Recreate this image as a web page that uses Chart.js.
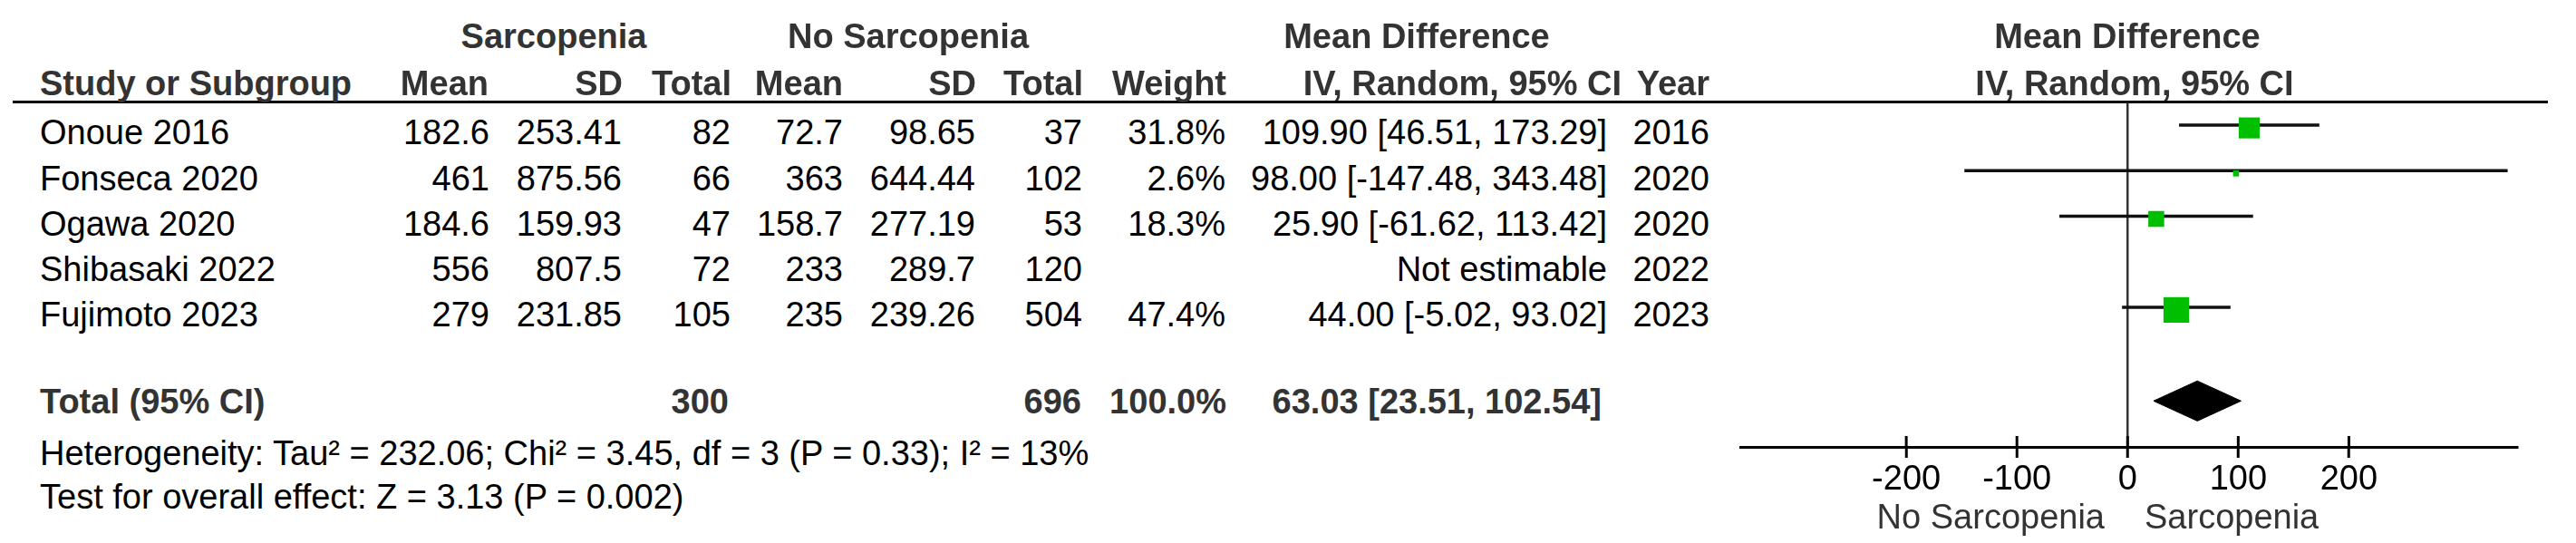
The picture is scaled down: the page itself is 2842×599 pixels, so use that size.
<!DOCTYPE html>
<html>
<head>
<meta charset="utf-8">
<script src="https://cdn.jsdelivr.net/npm/chart.js@4.4.1/dist/chart.umd.min.js"></script>
<style>
  html, body { margin: 0; padding: 0; background: #fff; }
  body { width: 2842px; height: 599px; position: relative; overflow: hidden;
         font-family: "Liberation Sans", Arial, sans-serif; }
  .t { position: absolute; font-size: 38px; line-height: 38px; white-space: nowrap; color: #000; }
  .b { font-weight: bold; color: #333; }
  .lbl { color: #333; }
  #forest { position: absolute; left: 1900px; top: 0; }
  #hline { position: absolute; left: 14px; width: 2797px; top: 111px; height: 3px; background: #000; }
</style>
</head>
<body>
<div id="hline"></div>
<canvas id="forest" width="942" height="599"></canvas>
<script>
// study data
const studies = ['Onoue 2016', 'Fonseca 2020', 'Ogawa 2020', 'Shibasaki 2022', 'Fujimoto 2023'];
const sarcMean = [182.6, 461, 184.6, 556, 279];
const sarcSD = [253.41, 875.56, 159.93, 807.5, 231.85];
const sarcN = [82, 66, 47, 72, 105];
const noMean = [72.7, 363, 158.7, 233, 235];
const noSD = [98.65, 644.44, 277.19, 289.7, 239.26];
const noN = [37, 102, 53, 120, 504];
const weights = [31.8, 2.6, 18.3, null, 47.4];
const md = [109.90, 98.00, 25.90, null, 44.00];
const ciLo = [46.51, -147.48, -61.62, null, -5.02];
const ciHi = [173.29, 343.48, 113.42, null, 93.02];
const years = [2016, 2020, 2020, 2022, 2023];

const totalSarc = 300;
const totalNo = 696;
const totalWeight = 100.0;
const pooled = [23.51, 63.03, 102.54]; // lo, md, hi
const heterogeneity = 'Heterogeneity: Tau² = 232.06; Chi² = 3.45, df = 3 (P = 0.33); I² = 13%';
const overall = 'Test for overall effect: Z = 3.13 (P = 0.002)';
const xTicks = [-200, -100, 0, 100, 200];

// ---- table text ----
const W = 2842;
const rowY = [146, 197, 247, 297, 347];
const totalY = 443;

function put(text, x, cy, align, cls) {
  const d = document.createElement('div');
  d.className = 't' + (cls ? ' ' + cls : '');
  d.textContent = text;
  d.style.top = (cy - 19) + 'px';
  if (align === 'right') d.style.right = (W - x) + 'px';
  else if (align === 'center') { d.style.left = (x - 500) + 'px'; d.style.width = '1000px'; d.style.textAlign = 'center'; }
  else d.style.left = x + 'px';
  document.body.appendChild(d);
}

// group headers
put('Sarcopenia', 611, 40, 'center', 'b');
put('No Sarcopenia', 1002, 40, 'center', 'b');
put('Mean Difference', 1563, 40, 'center', 'b');
put('Mean Difference', 2347, 40, 'center', 'b');
// column headers
const hy = 92;
put('Study or Subgroup', 44, hy, 'left', 'b');
put('Mean', 539, hy, 'right', 'b');
put('SD', 687, hy, 'right', 'b');
put('Total', 807, hy, 'right', 'b');
put('Mean', 930, hy, 'right', 'b');
put('SD', 1077, hy, 'right', 'b');
put('Total', 1195, hy, 'right', 'b');
put('Weight', 1353, hy, 'right', 'b');
put('IV, Random, 95% CI', 1789, hy, 'right', 'b');
put('Year', 1886, hy, 'right', 'b');
put('IV, Random, 95% CI', 2355, hy, 'center', 'b');

studies.forEach((s, i) => {
  const y = rowY[i];
  put(s, 44, y, 'left');
  put(String(sarcMean[i]), 540, y, 'right');
  put(String(sarcSD[i]), 686, y, 'right');
  put(String(sarcN[i]), 806, y, 'right');
  put(String(noMean[i]), 930, y, 'right');
  put(String(noSD[i]), 1076, y, 'right');
  put(String(noN[i]), 1194, y, 'right');
  if (weights[i] != null) put(weights[i].toFixed(1) + '%', 1352, y, 'right');
  if (md[i] != null) put(md[i].toFixed(2) + ' [' + ciLo[i].toFixed(2) + ', ' + ciHi[i].toFixed(2) + ']', 1773, y, 'right');
  else put('Not estimable', 1773, y, 'right');
  put(String(years[i]), 1886, y, 'right');
});

put('Total (95% CI)', 44, totalY, 'left', 'b');
put(String(totalSarc), 804, totalY, 'right', 'b');
put(String(totalNo), 1193, totalY, 'right', 'b');
put(totalWeight.toFixed(1) + '%', 1353, totalY, 'right', 'b');
put(pooled[1].toFixed(2) + ' [' + pooled[0].toFixed(2) + ', ' + pooled[2].toFixed(2) + ']', 1767, totalY, 'right', 'b');
put(heterogeneity, 44, 500, 'left');
put(overall, 44, 548, 'left');

// favours labels under the axis
put('No Sarcopenia', 2322, 570, 'right', 'lbl');
put('Sarcopenia', 2366, 570, 'left', 'lbl');

// ---- forest plot ----
Chart.defaults.font.family = '"Liberation Sans", Arial, sans-serif';
Chart.defaults.font.size = 38;
Chart.defaults.color = '#000';

const totalRow = studies.length + 1;
const lineNudge = -0.06; // CI whiskers sit a hair above the square centres
const ciSets = [];
studies.forEach((s, i) => {
  if (md[i] == null) return;
  ciSets.push({
    type: 'line',
    data: [{x: ciLo[i], y: i + lineNudge}, {x: ciHi[i], y: i + lineNudge}],
    borderColor: '#111', borderWidth: 3.5, pointRadius: 0, order: 2
  });
});

const squares = {
  type: 'scatter',
  data: studies.map((s, i) => md[i] == null ? null : {x: md[i], y: i}).filter(p => p),
  pointStyle: 'rect',
  backgroundColor: '#00bf00',
  borderWidth: 0,
  pointRadius: weights.filter(w => w != null).map(w => 2.9 * Math.sqrt(w)),
  order: 0
};

const dh = 0.44; // half-height of the pooled diamond in row units
const diamond = {
  type: 'line',
  data: [
    {x: pooled[0], y: totalRow}, {x: pooled[1], y: totalRow - dh},
    {x: pooled[2], y: totalRow}, {x: pooled[1], y: totalRow + dh},
    {x: pooled[0], y: totalRow}
  ],
  borderColor: '#000', borderWidth: 1, backgroundColor: '#000',
  fill: 'shape', pointRadius: 0, order: 1
};

// tick marks cross the axis line: draw the upper halves too
const tickUp = {
  id: 'tickUp',
  afterDraw(chart) {
    const sx = chart.scales.x, c = chart.ctx, yb = chart.chartArea.bottom;
    c.save();
    c.strokeStyle = '#000';
    c.lineWidth = 3;
    sx.ticks.forEach(t => {
      const px = sx.getPixelForValue(t.value);
      c.beginPath(); c.moveTo(px, yb - 12); c.lineTo(px, yb); c.stroke();
    });
    c.restore();
  }
};

new Chart(document.getElementById('forest'), {
  type: 'scatter',
  data: { datasets: [squares, diamond, ...ciSets] },
  plugins: [tickUp],
  options: {
    responsive: false,
    animation: false,
    devicePixelRatio: 1,
    layout: { padding: { left: 20, right: 65, top: 113, bottom: 0 } },
    plugins: { legend: { display: false }, tooltip: { enabled: false } },
    scales: {
      x: {
        type: 'linear', min: -350, max: 352,
        afterBuildTicks: ax => { ax.ticks = xTicks.map(v => ({ value: v })); },
        afterFit: ax => { ax.height = 106; },
        border: { display: true, color: '#000', width: 3 },
        grid: {
          display: true, drawOnChartArea: true, drawTicks: true,
          color: ctx => (ctx.tick && ctx.tick.value === 0) ? '#333' : 'rgba(0,0,0,0)',
          lineWidth: 2.5, tickLength: 12, tickColor: '#000', tickWidth: 3
        },
        ticks: { padding: 2, color: '#000', font: { size: 38 } }
      },
      y: { type: 'linear', min: -0.56, max: 7.01, reverse: true, display: false }
    }
  }
});
</script>
</body>
</html>
